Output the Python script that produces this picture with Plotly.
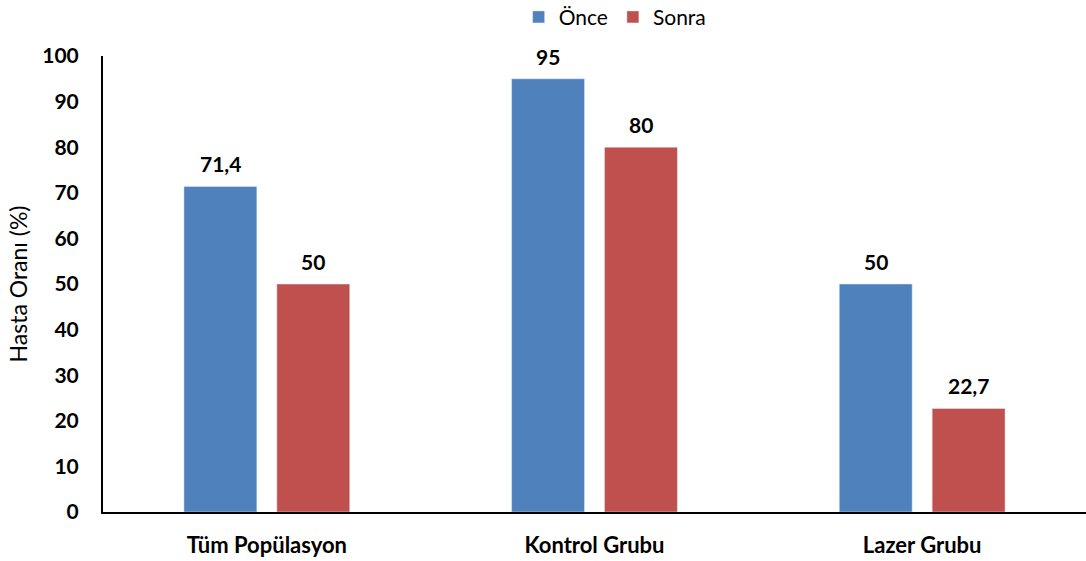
import plotly.graph_objects as go

categories = ["Tüm Popülasyon", "Kontrol Grubu", "Lazer Grubu"]
once_values = [71.4, 95, 50]
sonra_values = [50, 80, 22.7]
once_labels = ["71,4", "95", "50"]
sonra_labels = ["50", "80", "22,7"]

FONT = "Lato, Open Sans, sans-serif"
BOLD = dict(size=21, color="black", family=FONT, weight="bold")

fig = go.Figure()
fig.add_trace(go.Bar(x=categories, y=once_values, name="Önce", marker=dict(color="#4F81BD")))
fig.add_trace(go.Bar(x=categories, y=sonra_values, name="Sonra", marker=dict(color="#C0504D")))

# value labels above each bar, shifted to the bar's slot in the group
for cat, v, lab in zip(categories, once_values, once_labels):
    fig.add_annotation(x=cat, y=v, text=lab, showarrow=False, xshift=-46.5,
                       yanchor="bottom", yshift=8, font=BOLD)
for cat, v, lab in zip(categories, sonra_values, sonra_labels):
    fig.add_annotation(x=cat, y=v, text=lab, showarrow=False, xshift=46.5,
                       yanchor="bottom", yshift=8, font=BOLD)

fig.update_layout(
    width=1086, height=561,
    barmode="group", bargap=0.433, bargroupgap=0.215,
    plot_bgcolor="white", paper_bgcolor="white",
    font=dict(family=FONT, size=20, color="black"),
    margin=dict(l=103, r=0, t=56, b=49, autoexpand=False),
    showlegend=True,
    legend=dict(
        orientation="h", x=0.521, xanchor="center", y=1.085, yanchor="middle",
        font=dict(size=21), traceorder="normal",
    ),
)
fig.update_yaxes(
    range=[0, 100], dtick=10, showgrid=False, zeroline=False,
    showline=True, linecolor="black", linewidth=2,
    tickfont=BOLD, ticks="", ticklabelstandoff=18,
    title=dict(text="Hasta Oranı (%)", font=dict(size=23), standoff=8),
)
fig.update_xaxes(
    showgrid=False, showline=True, linecolor="black", linewidth=2,
    tickfont=dict(BOLD, size=22), ticks="", ticklabelstandoff=13,
)

fig.write_html("out.html", config={"displayModeBar": False},
               post_script="document.body.style.margin='0';")
